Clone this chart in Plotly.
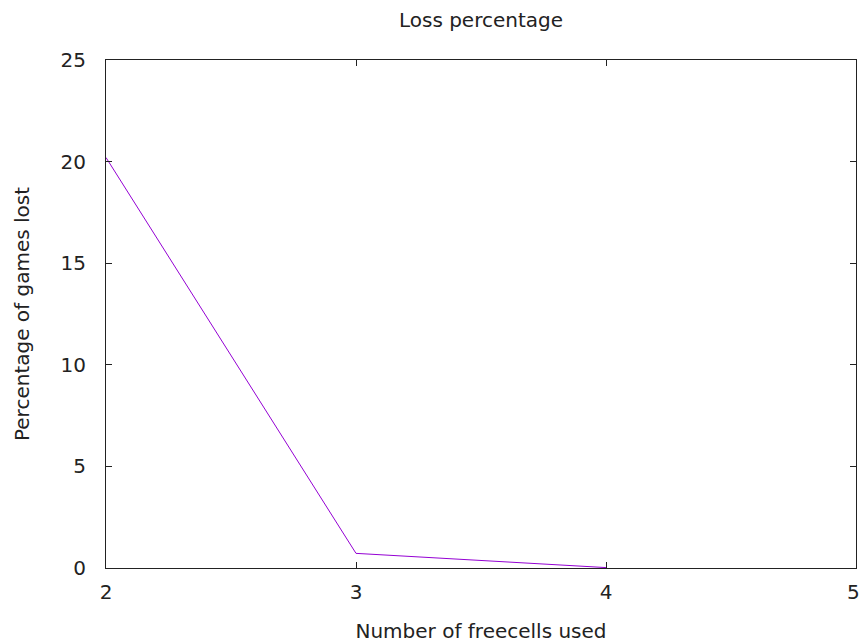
import plotly.graph_objects as go

freecells = [2, 3, 4]
loss_pct = [20.2, 0.72, 0.02]
x_ticks = [2, 3, 4, 5]
y_ticks = [0, 5, 10, 15, 20, 25]

fig = go.Figure()
fig.add_trace(go.Scatter(x=freecells, y=loss_pct, mode="lines",
                         line=dict(color="#9400D3", width=1), showlegend=False))

W, H = 859, 644
font = "DejaVu Sans, Liberation Sans, sans-serif"
fig.update_layout(
    width=W, height=H,
    margin=dict(l=106, r=3, t=60, b=76, autoexpand=False),
    paper_bgcolor="white", plot_bgcolor="white",
    font=dict(family=font, size=20, color="#222"),
    title=dict(text="Loss percentage", x=0.5, xref="paper", y=1 - 20 / H, yanchor="middle",
               font=dict(size=20, color="#222"), automargin=False),
)
# last x tick label is nudged left to stay inside the page (as in the reference)
x_ticktext = [str(v) for v in x_ticks[:-1]] + [""]
fig.update_xaxes(range=[2, 5], tickvals=x_ticks, ticktext=x_ticktext,
                 ticks="inside", ticklen=6, tickcolor="#222",
                 showline=True, linecolor="#222", linewidth=1, mirror="ticks",
                 showgrid=False, zeroline=False, ticklabelstandoff=6, automargin=False,
                 ticklabeloverflow="allow",
                 title=dict(text="Number of freecells used", standoff=20, font=dict(size=20)))
fig.add_annotation(x=x_ticks[-1], y=0, xref="x", yref="paper", text=str(x_ticks[-1]),
                   showarrow=False, xanchor="center", yanchor="top", xshift=-3, yshift=-10,
                   font=dict(size=20, color="#222"))
fig.update_yaxes(range=[0, 25], tickvals=y_ticks, ticks="inside", ticklen=6, tickcolor="#222",
                 showline=True, linecolor="#222", linewidth=1, mirror="ticks",
                 showgrid=False, zeroline=False, ticklabelstandoff=15, automargin=False,
                 ticklabeloverflow="allow",
                 title=dict(text="Percentage of games lost", standoff=25, font=dict(size=20)))

fig.write_html("out.html", config={"displayModeBar": False},
               post_script="document.body.style.margin='0';document.body.style.overflow='hidden';")
